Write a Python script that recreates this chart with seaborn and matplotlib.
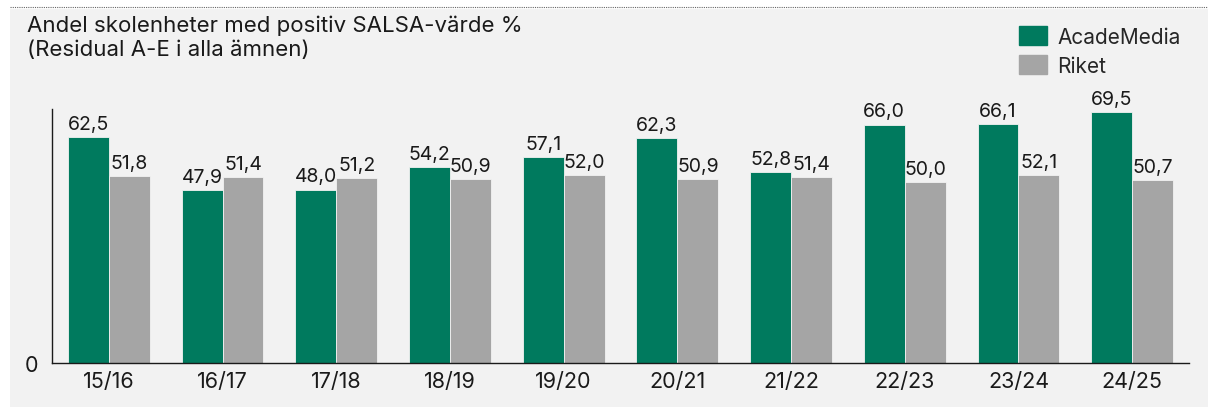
import matplotlib
matplotlib.use("Agg")
import matplotlib.pyplot as plt
import seaborn as sns
import pandas as pd
from matplotlib.lines import Line2D
from matplotlib.patches import Rectangle

# ================= DATOS =================
perioder = ["15/16", "16/17", "17/18", "18/19", "19/20", "20/21", "21/22", "22/23", "23/24", "24/25"]
academedia = [62.5, 47.9, 48.0, 54.2, 57.1, 62.3, 52.8, 66.0, 66.1, 69.5]
riket = [51.8, 51.4, 51.2, 50.9, 52.0, 50.9, 51.4, 50.0, 52.1, 50.7]
serier = ["AcadeMedia", "Riket"]

GRON = "#007a5e"
GRA = "#a5a5a5"
BG = "#f2f2f2"

df = pd.DataFrame({
    "period": perioder * 2,
    "serie": [serier[0]] * len(perioder) + [serier[1]] * len(perioder),
    "varde": academedia + riket,
})

sns.set_style("white")
plt.rcParams["font.family"] = ["Inter", "DejaVu Sans"]

fig = plt.figure(figsize=(12.08, 4.10), dpi=100)
fig.patch.set_facecolor("white")

# grå bakgrund + prickad linje upptill
fig.add_artist(Rectangle((10 / 1208, 2 / 410), 1, 398 / 410, transform=fig.transFigure,
                         facecolor=BG, edgecolor="none", zorder=-10))
fig.add_artist(Line2D([10 / 1208, 1], [402 / 410, 402 / 410], transform=fig.transFigure,
                      color="#666666", linestyle=(0, (1, 1)), linewidth=0.8))

ax = fig.add_axes([52 / 1208, 46 / 410, 1137 / 1208, 254 / 410])
ax.set_facecolor(BG)

sns.barplot(data=df, x="period", y="varde", hue="serie", palette=[GRON, GRA],
            width=0.72, saturation=1, edgecolor=BG, linewidth=0.6, ax=ax, legend=False)

for cont in ax.containers:
    ax.bar_label(cont, labels=[f"{v:.1f}".replace(".", ",") for v in cont.datavalues],
                 padding=3, fontsize=14, color="#1a1a1a")

ax.set_ylim(0, 70.3)
ax.set_xlim(-0.5, 9.5)
ax.set_yticks([0])
ax.set_yticklabels(["0"])
ax.tick_params(axis="both", length=0, labelsize=15.5, colors="#1a1a1a")
ax.tick_params(axis="x", pad=6)
ax.tick_params(axis="y", pad=10)
ax.set_xlabel("")
ax.set_ylabel("")
for s in ["top", "right"]:
    ax.spines[s].set_visible(False)
for s in ["left", "bottom"]:
    ax.spines[s].set_color("#1a1a1a")
    ax.spines[s].set_linewidth(1.0)

fig.text(27 / 1208, 1 - 16 / 410, "Andel skolenheter med positiv SALSA-värde %\n(Residual A-E i alla ämnen)",
         fontsize=16, va="top", ha="left", color="#1a1a1a", linespacing=1.2)

# legend
handles = [Rectangle((0, 0), 1, 1, color=GRON), Rectangle((0, 0), 1, 1, color=GRA)]
fig.legend(handles, serier, loc="upper left", bbox_to_anchor=(1000 / 1208, 1 - 8 / 410),
           frameon=False, fontsize=15, handlelength=1.35, handleheight=1.05,
           handletextpad=0.5, labelspacing=0.4)

fig.savefig("out.png", dpi=100, facecolor="white")
